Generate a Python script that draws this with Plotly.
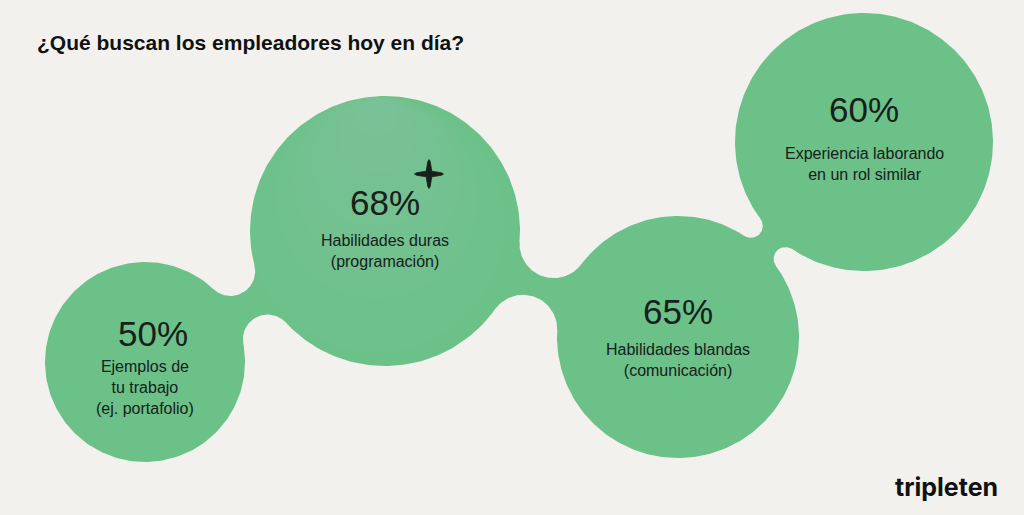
import math
import plotly.graph_objects as go

# ---- data ----
percents = ["50%", "68%", "65%", "60%"]
labels = [
    "Ejemplos de<br>tu trabajo<br>(ej. portafolio)",
    "Habilidades duras<br>(programación)",
    "Habilidades blandas<br>(comunicación)",
    "Experiencia laborando<br>en un rol similar",
]
title_text = "¿Qué buscan los empleadores hoy en día?"
brand = "tripleten"

# ---- layout geometry (pixel space) ----
centers_x = [145, 385, 678, 864]
centers_y = [362, 231, 337, 142]
radii = [100, 135, 121, 129]
necks = [28, 22, 24]          # bridge neck widths between consecutive bubbles
pct_dx = [8, 0, 0, 0]
pct_dy = [-29, -29, -26, -33]  # offset of % text from centre
lab_dy = [-6, -1, 2, 1]

GREEN = "#6bc188"
BG = "#f2f1ee"
INK = "#17201a"

W, H = 1024, 515


def circle_pts(cx, cy, r, n=240):
    xs, ys = [], []
    for i in range(n + 1):
        a = 2 * math.pi * i / n
        xs.append(cx + r * math.cos(a))
        ys.append(cy + r * math.sin(a))
    return xs, ys


def fillet_geom(c1, r1, c2, r2, R):
    dx, dy = c2[0] - c1[0], c2[1] - c1[1]
    d = math.hypot(dx, dy)
    a, b = r1 + R, r2 + R
    x = (d * d + a * a - b * b) / (2 * d)
    h = math.sqrt(max(a * a - x * x, 0))
    return d, x, h


def solve_R(c1, r1, c2, r2, neck):
    lo, hi = 0.5, 400.0
    for _ in range(80):
        mid = (lo + hi) / 2
        _, _, h = fillet_geom(c1, r1, c2, r2, mid)
        if 2 * (h - mid) < neck:
            lo = mid
        else:
            hi = mid
    return (lo + hi) / 2


def bridge_pts(c1, r1, c2, r2, neck, n=60):
    R = solve_R(c1, r1, c2, r2, neck)
    d, x, h = fillet_geom(c1, r1, c2, r2, R)
    ux, uy = (c2[0] - c1[0]) / d, (c2[1] - c1[1]) / d
    nx, ny = -uy, ux
    sides = []
    for s in (1, -1):
        P = (c1[0] + ux * x + s * nx * h, c1[1] + uy * x + s * ny * h)
        def ang(c):
            return math.atan2(c[1] - P[1], c[0] - P[0])
        a1, a2 = ang(c1), ang(c2)
        da = (a2 - a1 + math.pi) % (2 * math.pi) - math.pi
        arc = [(P[0] + R * math.cos(a1 + da * i / n), P[1] + R * math.sin(a1 + da * i / n)) for i in range(n + 1)]
        sides.append(arc)
    pts = sides[0] + list(reversed(sides[1]))
    pts.append(pts[0])
    return [p[0] for p in pts], [p[1] for p in pts]


fig = go.Figure()

# bridges
for i in range(len(radii) - 1):
    bx, by = bridge_pts((centers_x[i], centers_y[i]), radii[i],
                        (centers_x[i + 1], centers_y[i + 1]), radii[i + 1], necks[i])
    fig.add_trace(go.Scatter(x=bx, y=by, fill="toself", fillcolor=GREEN, mode="lines",
                             line=dict(width=0, color=GREEN), hoverinfo="skip", showlegend=False))

# bubbles
for cx, cy, r in zip(centers_x, centers_y, radii):
    xs, ys = circle_pts(cx, cy, r)
    fig.add_trace(go.Scatter(x=xs, y=ys, fill="toself", fillcolor=GREEN, mode="lines",
                             line=dict(width=0, color=GREEN), hoverinfo="skip", showlegend=False))

# soft highlight at top of the 68% bubble (many faint internally tangent layers)
top_y = centers_y[1] - radii[1]
for k in range(14):
    rk = 20 + k * 9
    xs, ys = circle_pts(centers_x[1] - 8, top_y + rk + 0.6, rk)
    fig.add_trace(go.Scatter(x=xs, y=ys, fill="toself", fillcolor="rgba(255,255,255,0.012)",
                             mode="lines", line=dict(width=0), hoverinfo="skip", showlegend=False))

# sparkle / plus mark
px, py, arm, w0, w1 = 429, 174, 14.5, 2.8, 1.2
star = [(px, py - arm), (px + w1, py - arm + 2), (px + w0, py - w0), (px + arm - 2, py - w1),
        (px + arm, py), (px + arm - 2, py + w1), (px + w0, py + w0), (px + w1, py + arm - 2),
        (px, py + arm), (px - w1, py + arm - 2), (px - w0, py + w0), (px - arm + 2, py + w1),
        (px - arm, py), (px - arm + 2, py - w1), (px - w0, py - w0), (px - w1, py - arm + 2),
        (px, py - arm)]
fig.add_trace(go.Scatter(x=[p[0] for p in star], y=[p[1] for p in star], fill="toself",
                         fillcolor=INK, mode="lines", line=dict(width=0.8, color=INK),
                         hoverinfo="skip", showlegend=False))

ann = []
for i in range(len(percents)):
    ann.append(dict(x=centers_x[i] + pct_dx[i], y=centers_y[i] + pct_dy[i], text=percents[i],
                    showarrow=False, xanchor="center", yanchor="middle",
                    font=dict(family="Liberation Sans, Arial, sans-serif", size=35, color=INK)))
    ann.append(dict(x=centers_x[i], y=centers_y[i] + lab_dy[i], text=labels[i],
                    showarrow=False, xanchor="center", yanchor="top", align="center",
                    font=dict(family="Liberation Sans, Arial, sans-serif", size=16, color=INK)))

ann.append(dict(x=35, y=42, text="<b>" + title_text + "</b>", showarrow=False,
                xanchor="left", yanchor="middle",
                font=dict(family="Liberation Sans, Arial, sans-serif", size=21, color="#111111")))
ann.append(dict(x=946, y=487, text="<b>" + brand + "</b>", showarrow=False,
                xanchor="center", yanchor="middle",
                font=dict(family="Inter, Liberation Sans, sans-serif", size=25, color="#111111")))

fig.update_layout(
    width=W, height=H, margin=dict(l=0, r=0, t=0, b=0),
    paper_bgcolor=BG, plot_bgcolor=BG,
    xaxis=dict(range=[0, W], visible=False, fixedrange=True),
    yaxis=dict(range=[H, 0], visible=False, fixedrange=True),
    annotations=ann, showlegend=False,
)

fig.write_html("out.html", config={"displayModeBar": False})
